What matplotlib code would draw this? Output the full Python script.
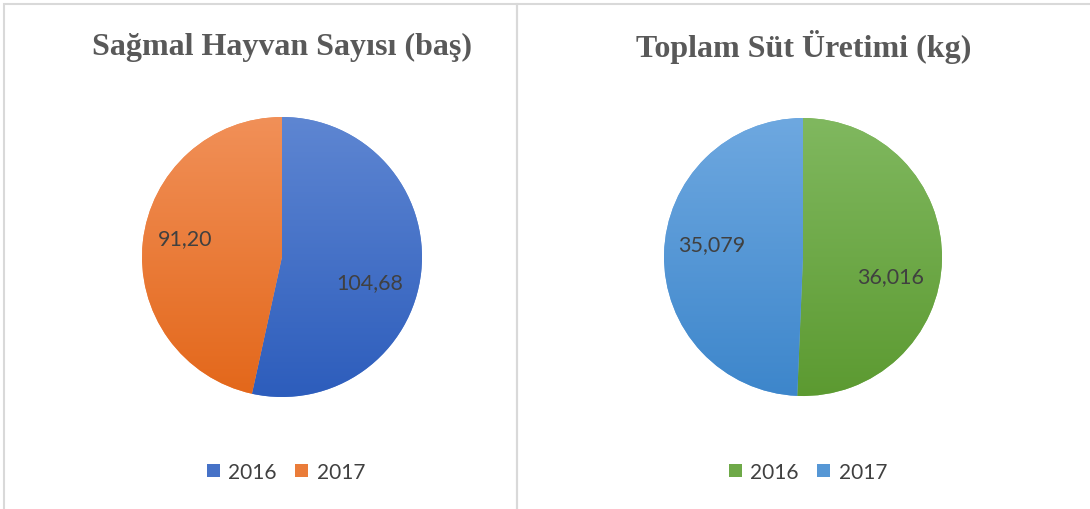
import numpy as np
import matplotlib
matplotlib.use("Agg")
import matplotlib.pyplot as plt
from matplotlib.patches import Patch, Rectangle
from matplotlib.colors import LinearSegmentedColormap, to_rgb

# ---- data ----
titles = ["Sağmal Hayvan Sayısı (baş)", "Toplam Süt Üretimi (kg)"]
years = ["2016", "2017"]
animals = [104.68, 91.20]
milk = [36.016, 35.079]
animal_labels = ["104,68", "91,20"]
milk_labels = ["36,016", "35,079"]

# ---- styles ----
W, H = 1090, 510
fig = plt.figure(figsize=(W / 100, H / 100), dpi=100)
fig.patch.set_facecolor("white")

grad_left = [("#5E86D2", "#2D5DBC"), ("#F19058", "#E3671A")]
grad_right = [("#80B85F", "#5C9A31"), ("#6EA8E0", "#3D86CB")]
label_offsets_left = [(0.63, -0.18), (-0.69, 0.135)]
label_offsets_right = [(0.63, -0.14), (-0.66, 0.095)]
text_color = "#404040"
num_font = ["Lato", "DejaVu Sans"]


def px_axes(cx, cy, r):
    return fig.add_axes([(cx - r) / W, 1 - (cy + r) / H, 2 * r / W, 2 * r / H])


def draw_pie(ax, values, grads, labels, offsets):
    wedges, _ = ax.pie(values, startangle=90, counterclock=False, radius=1,
                       wedgeprops=dict(linewidth=0))
    grad = np.linspace(0, 1, 256).reshape(-1, 1)
    for w, (top, bot) in zip(wedges, grads):
        cmap = LinearSegmentedColormap.from_list("g", [top, bot])
        w.set_facecolor(to_rgb(top))
        im = ax.imshow(grad, cmap=cmap, extent=[-1, 1, -1, 1], aspect="auto",
                       origin="upper", zorder=2, interpolation="bilinear")
        im.set_clip_path(w)
    for lab, (dx, dy) in zip(labels, offsets):
        ax.text(dx, dy, lab, ha="center", va="center", fontsize=15.5,
                color=text_color, family=num_font, zorder=5)
    ax.set_xlim(-1, 1)
    ax.set_ylim(-1, 1)
    ax.set_aspect("equal")
    ax.axis("off")


ax1 = px_axes(282, 258, 140)
draw_pie(ax1, animals, grad_left, animal_labels, label_offsets_left)
ax2 = px_axes(803, 258, 139)
draw_pie(ax2, milk, grad_right, milk_labels, label_offsets_right)

# panel borders
border = "#D9D9D9"
fig.add_artist(Rectangle((4 / W, -0.05), (517 - 4) / W, 1.05 - 4.5 / H,
                         transform=fig.transFigure, fill=False,
                         edgecolor=border, linewidth=1.5))
fig.add_artist(Rectangle((517 / W, -0.05), (1100 - 517) / W, 1.05 - 4.5 / H,
                         transform=fig.transFigure, fill=False,
                         edgecolor=border, linewidth=1.5))

# titles
for cx, t in zip([282, 804], titles):
    fig.text(cx / W, 1 - 47 / H, t, ha="center", va="center",
             fontsize=23, fontweight="bold", color="#595959",
             family=["Liberation Serif", "DejaVu Serif"])

# legends
for cx, grads in zip([286, 808], [grad_left, grad_right]):
    handles = [Patch(facecolor=np.mean([to_rgb(c[0]), to_rgb(c[1])], axis=0),
                     edgecolor="none") for c in grads]
    fig.legend(handles, years, loc="center", ncol=2,
               bbox_to_anchor=(cx / W, 1 - 473 / H), frameon=False,
               prop=dict(family=num_font, size=15),
               labelcolor=text_color, handlelength=0.62, handleheight=0.62,
               handletextpad=0.4, columnspacing=0.9)

fig.savefig("out.png", dpi=100, facecolor="white")
